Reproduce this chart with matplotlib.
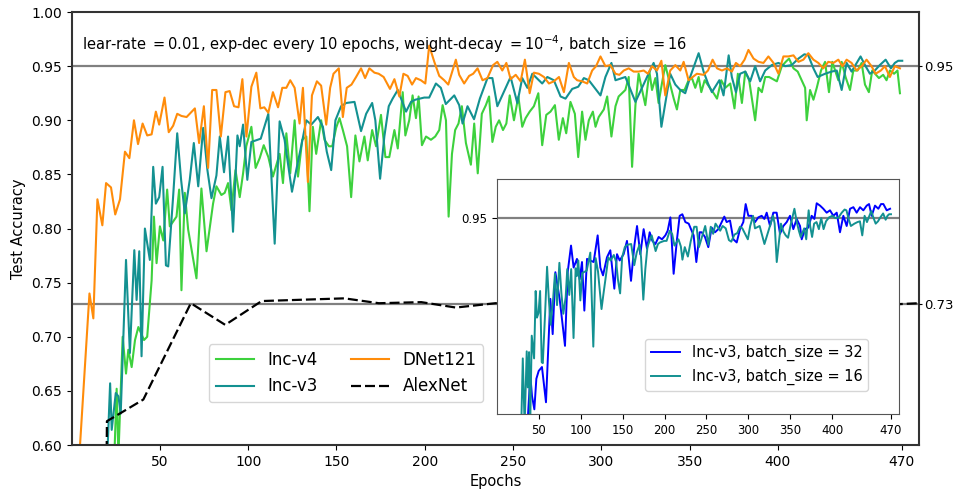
import matplotlib
matplotlib.use("Agg")
import matplotlib.pyplot as plt

# ---- data ----
dnet_epochs = [4, 10.1, 12.3, 14.6, 17.4, 19.5, 22.3, 24.7, 27.4, 30.2, 32.7, 35.3, 37.6, 40.2, 42.8, 45.3,
               47.7, 49.6, 52.6, 55, 57.5, 59.8, 62.2, 65.1, 69.8, 72.2, 74.9, 77.3, 79.6, 82, 84.5, 87.1,
               89.5, 92, 94.5, 96.7, 99, 101.8, 104.6, 106.9, 109.1, 111.4, 114, 116.9, 119.3, 121.6, 123.8,
               126.3, 129.1, 131, 133.8, 136.1, 138.9, 141.3, 144.2, 146.4, 148.3, 151.3, 153.6, 155.8, 158.5,
               161.1, 163.9, 166.2, 168.6, 171.5, 173.9, 176.7, 180.3, 182.8, 185.6, 187.9, 190.3, 192.8, 195,
               197.8, 200.3, 202.5, 205.4, 208.2, 211, 213.3, 217.6, 219.5, 222.3, 225.1, 227.4, 229.9, 232.7,
               235.5, 238.7, 241.1, 243.9, 246.2, 248.6, 251.5, 254.3, 256.7, 259.4, 261.8, 264.6, 267.5,
               270.3, 273.1, 276, 278.8, 281.6, 284.4, 286.3, 289.1, 292, 294.8, 297, 299.5, 302.3, 305.1,
               308, 310.2, 312.7, 315.5, 318.3, 321.1, 324, 326.4, 328.7, 331.5, 334, 336.2, 339, 341.9,
               344.7, 346.6, 349.4, 351.7, 354.1, 357.9, 360.4, 363, 365.5, 368.3, 371.1, 373.9, 376.2,
               378.6, 381.1, 383.3, 386.2, 389, 391.8, 394.6, 397.5, 400.3, 403.1, 405.9, 408.8, 411.6,
               414.4, 417.2, 420.1, 422.9, 425.7, 428.5, 431.4, 434.2, 436.5, 438.9, 441.7, 444.6, 447.4,
               450.2, 453, 455.3, 458.3, 460.6, 463.4, 466.2, 469.1]
dnet_acc = [0.58, 0.740, 0.717, 0.827, 0.803, 0.842, 0.838, 0.813, 0.827, 0.871, 0.865, 0.900, 0.878, 0.897,
            0.886, 0.887, 0.908, 0.896, 0.921, 0.889, 0.895, 0.906, 0.904, 0.903, 0.911, 0.879, 0.913, 0.856,
            0.928, 0.928, 0.885, 0.926, 0.927, 0.913, 0.912, 0.938, 0.885, 0.931, 0.944, 0.911, 0.912, 0.907,
            0.926, 0.912, 0.930, 0.930, 0.937, 0.930, 0.897, 0.930, 0.843, 0.923, 0.936, 0.932, 0.896, 0.930,
            0.943, 0.948, 0.903, 0.930, 0.933, 0.940, 0.948, 0.939, 0.948, 0.944, 0.943, 0.940, 0.929, 0.938,
            0.922, 0.943, 0.941, 0.933, 0.939, 0.937, 0.934, 0.969, 0.954, 0.941, 0.937, 0.933, 0.956, 0.942,
            0.934, 0.941, 0.943, 0.948, 0.937, 0.939, 0.951, 0.954, 0.946, 0.953, 0.938, 0.942, 0.936, 0.956,
            0.925, 0.944, 0.943, 0.940, 0.934, 0.936, 0.940, 0.926, 0.953, 0.940, 0.937, 0.936, 0.934, 0.946,
            0.950, 0.959, 0.950, 0.951, 0.943, 0.942, 0.946, 0.948, 0.945, 0.945, 0.946, 0.943, 0.950, 0.946,
            0.955, 0.923, 0.946, 0.951, 0.946, 0.954, 0.937, 0.940, 0.943, 0.942, 0.946, 0.956, 0.948, 0.946,
            0.948, 0.945, 0.953, 0.950, 0.956, 0.965, 0.957, 0.954, 0.953, 0.959, 0.953, 0.943, 0.959, 0.959,
            0.960, 0.954, 0.956, 0.962, 0.956, 0.953, 0.948, 0.954, 0.953, 0.956, 0.950, 0.956, 0.953, 0.946,
            0.950, 0.956, 0.950, 0.943, 0.946, 0.950, 0.940, 0.950, 0.948]

incv3_epochs = [20.2, 21.8, 22.7, 25, 26.5, 27.8, 30.8, 33, 35.5, 36.8, 38.3, 39.6, 41.5, 44.3, 46.2, 47.7,
                49.6, 51.5, 53.4, 54.7, 57.5, 59.8, 62, 64.1, 66.9, 69.2, 71.7, 74.5, 76.9, 79.2, 82, 83.9,
                86.3, 88.6, 91.4, 93.9, 95.2, 97.1, 99.5, 101.8, 107.1, 111.4, 115, 117.8, 120.6, 124.8,
                127.2, 130, 132.9, 135.7, 139.5, 142.3, 144.5, 147, 149.4, 152.6, 155.5, 160.2, 163.9, 166.8,
                170.2, 172, 174.7, 177.1, 179.6, 181.8, 184.7, 189.4, 192.2, 194.6, 199.7, 202.5, 206.3, 209.1,
                211.9, 216.7, 219.5, 221.4, 224.2, 227.9, 231.2, 235.5, 238.3, 241.1, 243.9, 248.6, 252.4,
                255.2, 258.1, 260.9, 266.5, 269.4, 273.1, 276.9, 279.7, 283.5, 286.9, 290.1, 292.9, 299.5,
                302.3, 305.7, 308, 313.6, 319.3, 323, 329.6, 331.5, 334, 339, 341.9, 344.7, 347.5, 350.3,
                355.1, 357.9, 360.4, 362.6, 366.8, 369.2, 372.1, 373.9, 376.2, 378.6, 381.5, 384.3, 387.1,
                389.9, 392.8, 396.5, 400.3, 404.1, 407.8, 411.6, 415, 417.2, 420.1, 422.5, 426.7, 430.4,
                433.3, 436.1, 438.9, 441.7, 446.8, 449.3, 452.1, 454.9, 457.7, 461, 464, 466.2, 468.1, 470.4]
incv3_acc = [0.59, 0.657, 0.614, 0.648, 0.645, 0.629, 0.771, 0.685, 0.780, 0.734, 0.779, 0.682, 0.800, 0.771,
             0.857, 0.823, 0.829, 0.857, 0.766, 0.765, 0.830, 0.888, 0.845, 0.814, 0.845, 0.879, 0.839, 0.893,
             0.854, 0.828, 0.849, 0.885, 0.852, 0.885, 0.797, 0.886, 0.876, 0.896, 0.845, 0.880, 0.883, 0.906,
             0.786, 0.899, 0.882, 0.834, 0.854, 0.876, 0.900, 0.896, 0.903, 0.894, 0.871, 0.854, 0.900, 0.913,
             0.916, 0.917, 0.890, 0.906, 0.916, 0.900, 0.846, 0.885, 0.913, 0.920, 0.928, 0.908, 0.917, 0.919,
             0.921, 0.921, 0.934, 0.930, 0.915, 0.923, 0.914, 0.897, 0.913, 0.901, 0.920, 0.939, 0.939, 0.913,
             0.923, 0.940, 0.916, 0.939, 0.930, 0.943, 0.934, 0.940, 0.937, 0.922, 0.920, 0.929, 0.931, 0.939,
             0.937, 0.923, 0.940, 0.953, 0.937, 0.940, 0.917, 0.930, 0.953, 0.943, 0.894, 0.943, 0.933, 0.928,
             0.925, 0.940, 0.962, 0.945, 0.934, 0.926, 0.937, 0.923, 0.960, 0.940, 0.926, 0.943, 0.945, 0.936,
             0.950, 0.936, 0.946, 0.951, 0.953, 0.950, 0.951, 0.957, 0.961, 0.960, 0.948, 0.940, 0.943, 0.945,
             0.946, 0.928, 0.953, 0.945, 0.959, 0.951, 0.943, 0.946, 0.951, 0.956, 0.948, 0.953, 0.955, 0.955]

incv4_epochs = [24, 25.5, 26.5, 28.9, 30.8, 32.1, 34, 35.9, 37.8, 41, 42.8, 45.3, 46.6, 48.1, 50, 51.9, 54.1,
                55.6, 59.4, 60.9, 62.2, 64.1, 66, 69.2, 70.7, 73.5, 76.4, 80.1, 82, 84.8, 86.7, 88.6, 90.5,
                92.8, 95.2, 97.1, 98.9, 101.8, 104.2, 106.5, 108.8, 111.4, 114, 117.8, 119.7, 121.6, 123.8,
                126.3, 128.2, 130.6, 132.9, 134.7, 136.6, 138.5, 141.3, 143.2, 145.7, 147.6, 149.8, 151.7,
                153.6, 156, 158.3, 160.7, 163, 165.8, 167.7, 170.2, 172.4, 175.2, 177.7, 179.9, 182.8, 184.7,
                187.5, 189, 191.2, 193.1, 195, 196.5, 198.4, 200.7, 203.5, 205.9, 208.2, 210.1, 212, 213.5,
                215.4, 217.2, 219.1, 221, 223.3, 226.1, 228, 230, 232.3, 234.6, 236.4, 238.3, 240.2, 242.1,
                244.3, 246.2, 248.1, 250.5, 253, 255.2, 257.1, 259.4, 261.8, 264.3, 266.5, 268.8, 271.2,
                273.7, 275.9, 278.2, 280.1, 282.5, 285, 286.9, 289.1, 291, 292.9, 295.2, 296.7, 298.5, 301.4,
                303.3, 305.7, 308, 309.8, 313.6, 315.5, 317.4, 319.3, 321.1, 324.9, 327.2, 328.7, 330.6,
                332.4, 334.3, 336.2, 339, 341, 342.8, 344.7, 347.1, 349.4, 351.3, 353.2, 355.1, 356.6, 358.5,
                363.6, 365.5, 367.9, 370.2, 373, 375.4, 377.3, 379.6, 381.5, 383.7, 387.1, 389, 390.9, 392.8,
                395, 399.4, 402.2, 404.4, 406.3, 408.8, 411.2, 415.4, 416.3, 418.2, 420.1, 422, 424.4, 426.7,
                428.9, 430.8, 434.2, 436.1, 438.3, 440.8, 442.7, 445.1, 447.4, 449.3, 451.5, 453.4, 457.2,
                459.6, 461.5, 463.4, 465.8, 467.7, 469.1]
incv4_acc = [0.58, 0.652, 0.59, 0.700, 0.666, 0.688, 0.672, 0.697, 0.709, 0.697, 0.700, 0.752, 0.811, 0.768,
             0.802, 0.789, 0.836, 0.802, 0.811, 0.836, 0.743, 0.833, 0.799, 0.768, 0.754, 0.837, 0.779, 0.823,
             0.839, 0.831, 0.833, 0.842, 0.817, 0.854, 0.829, 0.851, 0.876, 0.894, 0.856, 0.865, 0.877, 0.866,
             0.848, 0.869, 0.842, 0.888, 0.851, 0.900, 0.848, 0.882, 0.885, 0.816, 0.894, 0.869, 0.900, 0.882,
             0.876, 0.876, 0.893, 0.902, 0.891, 0.876, 0.829, 0.886, 0.862, 0.885, 0.863, 0.891, 0.876, 0.905,
             0.866, 0.866, 0.891, 0.874, 0.926, 0.886, 0.900, 0.923, 0.902, 0.922, 0.877, 0.885, 0.882, 0.885,
             0.891, 0.914, 0.900, 0.811, 0.869, 0.891, 0.897, 0.913, 0.879, 0.859, 0.897, 0.851, 0.906, 0.914,
             0.922, 0.880, 0.894, 0.900, 0.891, 0.897, 0.923, 0.900, 0.922, 0.894, 0.902, 0.908, 0.913, 0.925,
             0.877, 0.905, 0.908, 0.914, 0.882, 0.902, 0.888, 0.917, 0.906, 0.866, 0.908, 0.882, 0.900, 0.908,
             0.894, 0.903, 0.910, 0.922, 0.885, 0.913, 0.922, 0.928, 0.940, 0.857, 0.914, 0.943, 0.914, 0.945,
             0.928, 0.939, 0.916, 0.934, 0.951, 0.933, 0.920, 0.910, 0.928, 0.928, 0.937, 0.939, 0.930, 0.940,
             0.926, 0.937, 0.925, 0.920, 0.937, 0.930, 0.934, 0.911, 0.943, 0.916, 0.945, 0.937, 0.900, 0.930,
             0.926, 0.940, 0.940, 0.936, 0.950, 0.954, 0.957, 0.948, 0.945, 0.930, 0.900, 0.928, 0.919, 0.930,
             0.946, 0.954, 0.926, 0.954, 0.937, 0.954, 0.940, 0.928, 0.946, 0.946, 0.953, 0.933, 0.926, 0.946,
             0.939, 0.942, 0.937, 0.946, 0.943, 0.946, 0.925]

alexnet_epochs = [19.3, 20, 40.6, 67.5, 87, 107.6, 154.5, 174, 198, 217.6, 240, 260, 300, 350, 400, 440, 480]
alexnet_acc = [0.50, 0.622, 0.642, 0.731, 0.711, 0.733, 0.7355, 0.731, 0.732, 0.727, 0.731, 0.732, 0.731,
               0.729, 0.728, 0.728, 0.731]

# inset: Inc-v3 trained with batch size 32 (batch size 16 is incv3_* above)
bs32_epochs = [36, 39.8, 41.8, 44.6, 47, 49.8, 53.7, 58.5, 63.7, 66.5, 69.7, 74.8, 77.6, 81.2, 84.4, 88.4,
               91.5, 95.5, 98.7, 101.5, 104.3, 107.5, 111.4, 115.4, 120.2, 123.4, 126.6, 131.3, 135.3, 140.1,
               143.3, 146.5, 151.2, 155.2, 160, 164, 167.2, 171.1, 175.1, 179.1, 182.3, 185.5, 189.1, 193,
               197, 201, 203.8, 207, 210.9, 214.9, 218.1, 221.3, 224.9, 228.9, 231.6, 234.8, 238, 242, 244.4,
               248.3, 252.3, 256.3, 260.3, 264.3, 271.4, 274.2, 278.2, 282.2, 286.2, 290.1, 294.1, 296.9,
               300.1, 304.1, 308.1, 312, 316, 319.2, 322, 326, 329.9, 333.9, 337.9, 341.9, 345.9, 349.8,
               353.8, 357.8, 361.8, 363.8, 367.7, 371.7, 375.7, 378.9, 381.7, 385.7, 389.6, 393.6, 397.6,
               401.6, 405.6, 409.5, 413.5, 417.5, 421.5, 425.5, 429.4, 433.4, 437.4, 441.4, 444.2, 447.3,
               451.3, 455.3, 458.5, 461.3, 465.3, 469.3]
bs32_acc = [0.68, 0.749, 0.723, 0.706, 0.745, 0.755, 0.760, 0.715, 0.847, 0.802, 0.881, 0.847, 0.821, 0.787,
            0.881, 0.915, 0.887, 0.898, 0.872, 0.894, 0.832, 0.898, 0.896, 0.894, 0.928, 0.887, 0.877, 0.900,
            0.909, 0.860, 0.904, 0.896, 0.904, 0.921, 0.870, 0.915, 0.940, 0.904, 0.936, 0.911, 0.932, 0.921,
            0.917, 0.926, 0.923, 0.928, 0.934, 0.951, 0.879, 0.923, 0.953, 0.955, 0.945, 0.943, 0.936, 0.928,
            0.894, 0.932, 0.932, 0.926, 0.913, 0.938, 0.932, 0.936, 0.952, 0.945, 0.947, 0.923, 0.919, 0.936,
            0.945, 0.968, 0.953, 0.953, 0.945, 0.951, 0.953, 0.949, 0.957, 0.940, 0.957, 0.957, 0.930, 0.940,
            0.945, 0.953, 0.936, 0.949, 0.940, 0.923, 0.936, 0.938, 0.953, 0.949, 0.969, 0.966, 0.962, 0.957,
            0.960, 0.953, 0.957, 0.932, 0.953, 0.940, 0.962, 0.964, 0.957, 0.964, 0.960, 0.966, 0.968, 0.953,
            0.966, 0.962, 0.968, 0.968, 0.960, 0.962]

xticks = [50, 100, 150, 200, 250, 300, 350, 400, 470]
ref_levels = [0.73, 0.95]

GREEN = '#3dd13d'
TEAL = '#139191'
ORANGE = '#ff8c0a'

fig = plt.figure(figsize=(9.55, 4.92), dpi=100)
ax = fig.add_axes([0.075, 0.0955, 0.8875, 0.880])

for lvl in ref_levels:
    ax.axhline(lvl, color='gray', lw=1.6, zorder=1)

ax.plot(incv4_epochs, incv4_acc, color=GREEN, lw=1.5, label='Inc-v4')
ax.plot(incv3_epochs, incv3_acc, color=TEAL, lw=1.5, label='Inc-v3')
ax.plot(dnet_epochs, dnet_acc, color=ORANGE, lw=1.5, label='DNet121')
ax.plot(alexnet_epochs, alexnet_acc, color='black', ls='--', dashes=(4.5, 1.8), lw=1.6, label='AlexNet')

ax.set_xlim(0, 480)
ax.set_ylim(0.6, 1.0)
ax.set_xticks(xticks)
ax.set_yticks([0.60, 0.65, 0.70, 0.75, 0.80, 0.85, 0.90, 0.95, 1.00])
ax.set_yticklabels(['0.60', '0.65', '0.70', '0.75', '0.80', '0.85', '0.90', '0.95', '1.00'])
ax.tick_params(labelsize=10)
ax.set_xlabel('Epochs', fontsize=10.5)
ax.set_ylabel('Test Accuracy', fontsize=10.5)
for s in ax.spines.values():
    s.set_linewidth(1.5)
    s.set_color('#333333')

ax.text(0.012, 0.925, r'lear-rate $= 0.01$, exp-dec every 10 epochs, weight-decay $= 10^{-4}$, batch_size $= 16$',
        transform=ax.transAxes, fontsize=10.5, va='center')

ax.legend(ncol=2, loc='lower left', bbox_to_anchor=(0.162, 0.099), borderaxespad=0,
          fontsize=12, columnspacing=2.0, handlelength=2.3)

ax2 = ax.twinx()
ax2.set_ylim(0.6, 1.0)
ax2.set_yticks(ref_levels)
ax2.set_yticklabels(['0.73', '0.95'])
ax2.tick_params(labelsize=9.5, length=2.5, pad=0.8)
for s in ax2.spines.values():
    s.set_visible(False)

# inset comparing batch sizes
ins = fig.add_axes([0.5204, 0.1585, 0.421, 0.4777])
ins.axhline(0.95, color='gray', lw=1.6, zorder=1)
ins.plot(bs32_epochs, bs32_acc, color='blue', lw=1.4, label='Inc-v3, batch_size = 32')
ins.plot(incv3_epochs, incv3_acc, color=TEAL, lw=1.4, label='Inc-v3, batch_size = 16')
ins.set_xlim(0, 480)
ins.set_ylim(0.70, 1.0)
ins.set_xticks(xticks)
ins.set_yticks([0.95])
ins.tick_params(labelsize=8.5)
for s in ins.spines.values():
    s.set_color('#555555')
ins.legend(loc='lower left', bbox_to_anchor=(0.368, 0.099), borderaxespad=0, fontsize=10.5)

fig.savefig('out.png', dpi=100)
